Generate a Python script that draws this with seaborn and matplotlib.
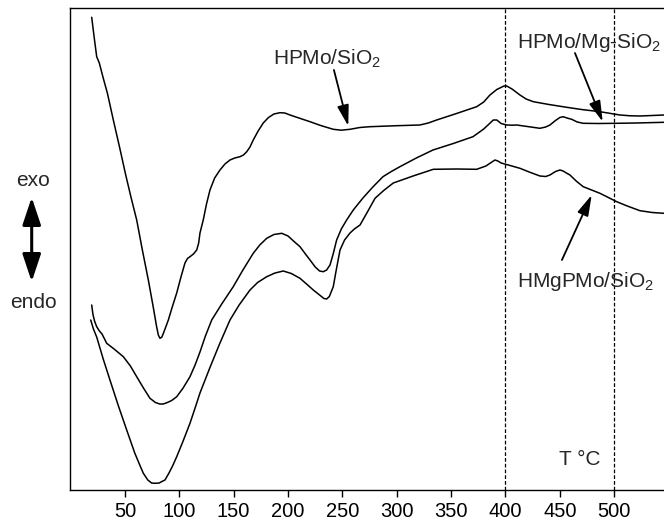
import matplotlib
matplotlib.use("Agg")
import matplotlib.pyplot as plt
import seaborn as sns
import pandas as pd
from matplotlib.patches import FancyArrowPatch, ArrowStyle

# ---------------- data (temperature in °C, DTA signal in arbitrary units) ----------------
t_hpmo = [19.4, 22.0, 24.0, 26.4, 30.0, 33.8, 39.3, 45.0, 50.5, 55.5, 60.8, 66.0, 71.5,
          76.0, 79.0, 80.7, 82.2, 84.0, 86.5, 89.9, 93.5, 97.6, 101.5, 105.2, 107.5, 109.8,
          113.0, 116.0, 117.8, 119.0, 122.0, 125.0, 128.2, 132.5, 137.4, 142.0, 146.6,
          151.0, 155.8, 159.0, 162.0, 165.0, 168.0, 172.5, 177.2, 182.0, 187.0, 192.6,
          197.0, 201.8, 210.0, 220.2, 230.0, 241.6, 249.0, 257.0, 266.0, 275.4, 300.0,
          321.3, 329.0, 336.7, 355.0, 373.5, 380.0, 385.7, 392.0, 398.6, 401.1, 406.0,
          413.3, 419.0, 425.6, 440.0, 456.3, 470.0, 486.9, 505.3, 515.0, 523.7, 535.0, 545.8]
s_hpmo = [472.7, 450.0, 433.3, 427.0, 412.0, 397.0, 370.0, 343.0, 316.0, 293.0, 270.0,
          240.0, 210.0, 183.0, 164.0, 155.0, 151.7, 153.0, 160.0, 170.0, 183.0, 197.0,
          213.0, 227.0, 231.5, 233.3, 236.0, 240.0, 247.0, 257.0, 270.0, 286.0, 300.0,
          312.0, 320.0, 326.0, 330.0, 332.0, 333.3, 335.0, 338.3, 343.0, 350.0, 359.0,
          367.0, 372.5, 376.0, 377.3, 377.0, 375.0, 372.0, 368.3, 364.5, 360.7, 359.8,
          360.7, 362.5, 363.3, 364.3, 365.0, 367.0, 370.0, 376.5, 383.3, 388.0, 395.0,
          400.5, 404.0, 404.0, 401.0, 395.0, 391.0, 388.3, 385.5, 382.7, 380.5, 378.3,
          375.0, 374.2, 374.0, 374.5, 375.0]

t_hpmo_mg = [19.4, 20.5, 22.0, 24.0, 26.5, 28.9, 33.2, 40.0, 48.5, 55.0, 60.8, 67.0, 73.0,
             78.0, 82.0, 85.3, 89.0, 93.0, 97.6, 103.5, 109.8, 114.5, 119.0, 124.0, 129.8,
             139.0, 149.6, 158.5, 168.0, 174.0, 180.4, 187.0, 194.2, 200.0, 205.0, 211.0,
             216.0, 220.2, 225.0, 229.0, 232.4, 235.5, 238.6, 241.5, 244.7, 249.0, 253.9,
             260.0, 268.9, 278.0, 287.3, 295.0, 302.9, 318.0, 333.3, 352.0, 370.1, 380.0,
             388.8, 392.0, 396.0, 401.1, 406.0, 410.3, 420.0, 431.7, 437.0, 440.9, 446.0,
             450.0, 453.1, 456.5, 460.9, 466.0, 471.5, 485.0, 502.3, 520.0, 545.8]
s_hpmo_mg = [185.0, 176.0, 169.0, 163.3, 159.0, 156.0, 146.7, 141.0, 133.3, 124.0, 113.3,
             102.0, 91.7, 87.5, 86.0, 86.0, 87.5, 89.5, 93.3, 102.0, 113.3, 125.0, 138.0,
             154.0, 170.0, 186.0, 203.3, 220.0, 236.7, 245.0, 251.7, 255.5, 256.7, 254.0,
             249.0, 243.3, 236.0, 230.0, 223.0, 219.0, 218.3, 220.0, 225.0, 236.0, 250.0,
             261.0, 270.0, 280.0, 292.0, 303.0, 313.3, 318.5, 323.3, 332.0, 340.0, 346.5,
             353.3, 361.0, 370.0, 370.0, 366.5, 365.0, 364.8, 365.0, 363.5, 361.7, 363.0,
             365.0, 369.5, 372.5, 373.3, 372.0, 370.7, 368.0, 366.7, 366.5, 366.7, 367.0,
             367.7]

t_hmgpmo = [18.5, 21.0, 24.0, 30.0, 36.2, 44.0, 51.6, 59.0, 64.0, 66.9, 71.0, 74.5, 77.6,
            81.5, 84.0, 86.8, 90.5, 94.0, 97.6, 103.5, 109.8, 114.5, 119.0, 128.0, 137.0,
            146.6, 155.0, 165.0, 172.0, 180.4, 188.0, 195.6, 203.0, 211.0, 217.0, 223.2,
            229.0, 233.0, 235.5, 238.0, 241.6, 244.0, 247.8, 252.0, 257.0, 261.0, 266.2,
            273.0, 280.0, 288.0, 296.8, 315.0, 333.6, 355.0, 373.5, 382.0, 390.3, 393.0,
            396.0, 402.6, 413.3, 423.0, 431.7, 437.0, 440.9, 446.0, 450.1, 453.0, 456.0,
            459.3, 465.0, 471.5, 486.9, 502.3, 512.0, 523.7, 535.0, 545.8]
s_hmgpmo = [170.0, 161.0, 153.0, 131.0, 110.0, 84.0, 60.0, 37.0, 24.0, 16.7, 10.0, 7.0,
            6.7, 7.0, 8.5, 10.0, 17.0, 24.5, 33.3, 49.0, 66.7, 82.0, 97.0, 122.0, 146.0,
            170.0, 185.0, 200.0, 207.5, 213.3, 217.0, 219.0, 216.5, 211.7, 206.0, 200.0,
            195.0, 191.5, 191.0, 193.5, 203.3, 218.0, 240.0, 250.0, 257.0, 261.0, 265.0,
            278.0, 291.7, 299.5, 307.0, 314.0, 320.7, 321.0, 320.7, 324.0, 330.0, 329.0,
            327.0, 325.0, 321.7, 317.5, 314.0, 313.5, 315.0, 318.5, 320.0, 319.0, 317.0,
            315.0, 309.0, 303.3, 296.7, 288.3, 284.0, 279.3, 277.5, 276.7]

x_ticks = [50, 100, 150, 200, 250, 300, 350, 400, 450, 500]
ref_lines = [400, 500]

# ---------------- style ----------------
sns.set_theme(style="white")
plt.rcParams["font.family"] = ["Liberation Sans", "DejaVu Sans"]
plt.rcParams["mathtext.fontset"] = "custom"
plt.rcParams["mathtext.rm"] = "Liberation Sans"
plt.rcParams["mathtext.it"] = "Liberation Sans:italic"

FS = 15
fig = plt.figure(figsize=(6.64, 5.23), dpi=100)
W, H = 664, 523
ax = fig.add_axes([70 / W, (H - 490) / H, (664 - 70) / W, (490 - 8) / H])

frames = [
    pd.DataFrame({"T": t_hpmo, "signal": s_hpmo, "sample": "HPMo/SiO2"}),
    pd.DataFrame({"T": t_hpmo_mg, "signal": s_hpmo_mg, "sample": "HPMo/Mg-SiO2"}),
    pd.DataFrame({"T": t_hmgpmo, "signal": s_hmgpmo, "sample": "HMgPMo/SiO2"}),
]
for df in frames:
    sns.lineplot(data=df, x="T", y="signal", ax=ax, sort=False, estimator=None,
                 color="black", lw=1.1, legend=False)

for xv in ref_lines:
    ax.axvline(xv, color="black", lw=0.9, ls=(0, (3, 1.6)))

ax.set_xlim(-0.55, 545.8)
ax.set_ylim(0, 482)
ax.set_xticks(x_ticks)
ax.set_xticklabels([str(v) for v in x_ticks], fontsize=14.5)
ax.set_yticks([])
ax.set_xlabel("")
ax.set_ylabel("")
ax.tick_params(axis="x", direction="out", length=5, width=1.0, pad=3.5, colors="black",
               bottom=True)
for side in ["left", "bottom", "top"]:
    ax.spines[side].set_visible(True)
    ax.spines[side].set_color("black")
    ax.spines[side].set_linewidth(1.0)
ax.spines["right"].set_visible(False)

# ---------------- annotations ----------------
arrow_kw = dict(arrowstyle=ArrowStyle("-|>", head_length=0.9, head_width=0.25),
                color="black", lw=1.3, mutation_scale=14, shrinkA=0, shrinkB=0)

ax.text(186.0, 425.0, r"HPMo/SiO$_{\mathrm{2}}$", fontsize=FS, ha="left", va="baseline")
ax.annotate("", xy=(255.4, 364.0), xytext=(242.2, 420.0), arrowprops=arrow_kw)

ax.text(410.6, 441.7, r"HPMo/Mg-SiO$_{\mathrm{2}}$", fontsize=FS, ha="left", va="baseline")
ax.annotate("", xy=(489.4, 368.3), xytext=(463.9, 437.0), arrowprops=arrow_kw)

ax.text(410.6, 203.0, r"HMgPMo/SiO$_{\mathrm{2}}$", fontsize=FS, ha="left", va="baseline")
ax.annotate("", xy=(479.3, 295.0), xytext=(451.9, 230.0), arrowprops=arrow_kw)

ax.text(449.0, 25.0, "T °C", fontsize=FS, ha="left", va="baseline")

# exo / endo indicator outside the axes
fig.text(33 / W, 1 - 180 / H, "exo", fontsize=FS, ha="center", va="center")
fig.text(33 / W, 1 - 303 / H, "endo", fontsize=FS, ha="center", va="center")
dbl = FancyArrowPatch((31.7 / W, 1 - 197.3 / H), (31.7 / W, 1 - 281.7 / H),
                      transform=fig.transFigure,
                      arrowstyle=ArrowStyle("<|-|>", head_length=1.2, head_width=0.4),
                      mutation_scale=14, lw=2.2, color="black", shrinkA=0, shrinkB=0)
fig.patches.append(dbl)

fig.savefig("out.png", dpi=100)
